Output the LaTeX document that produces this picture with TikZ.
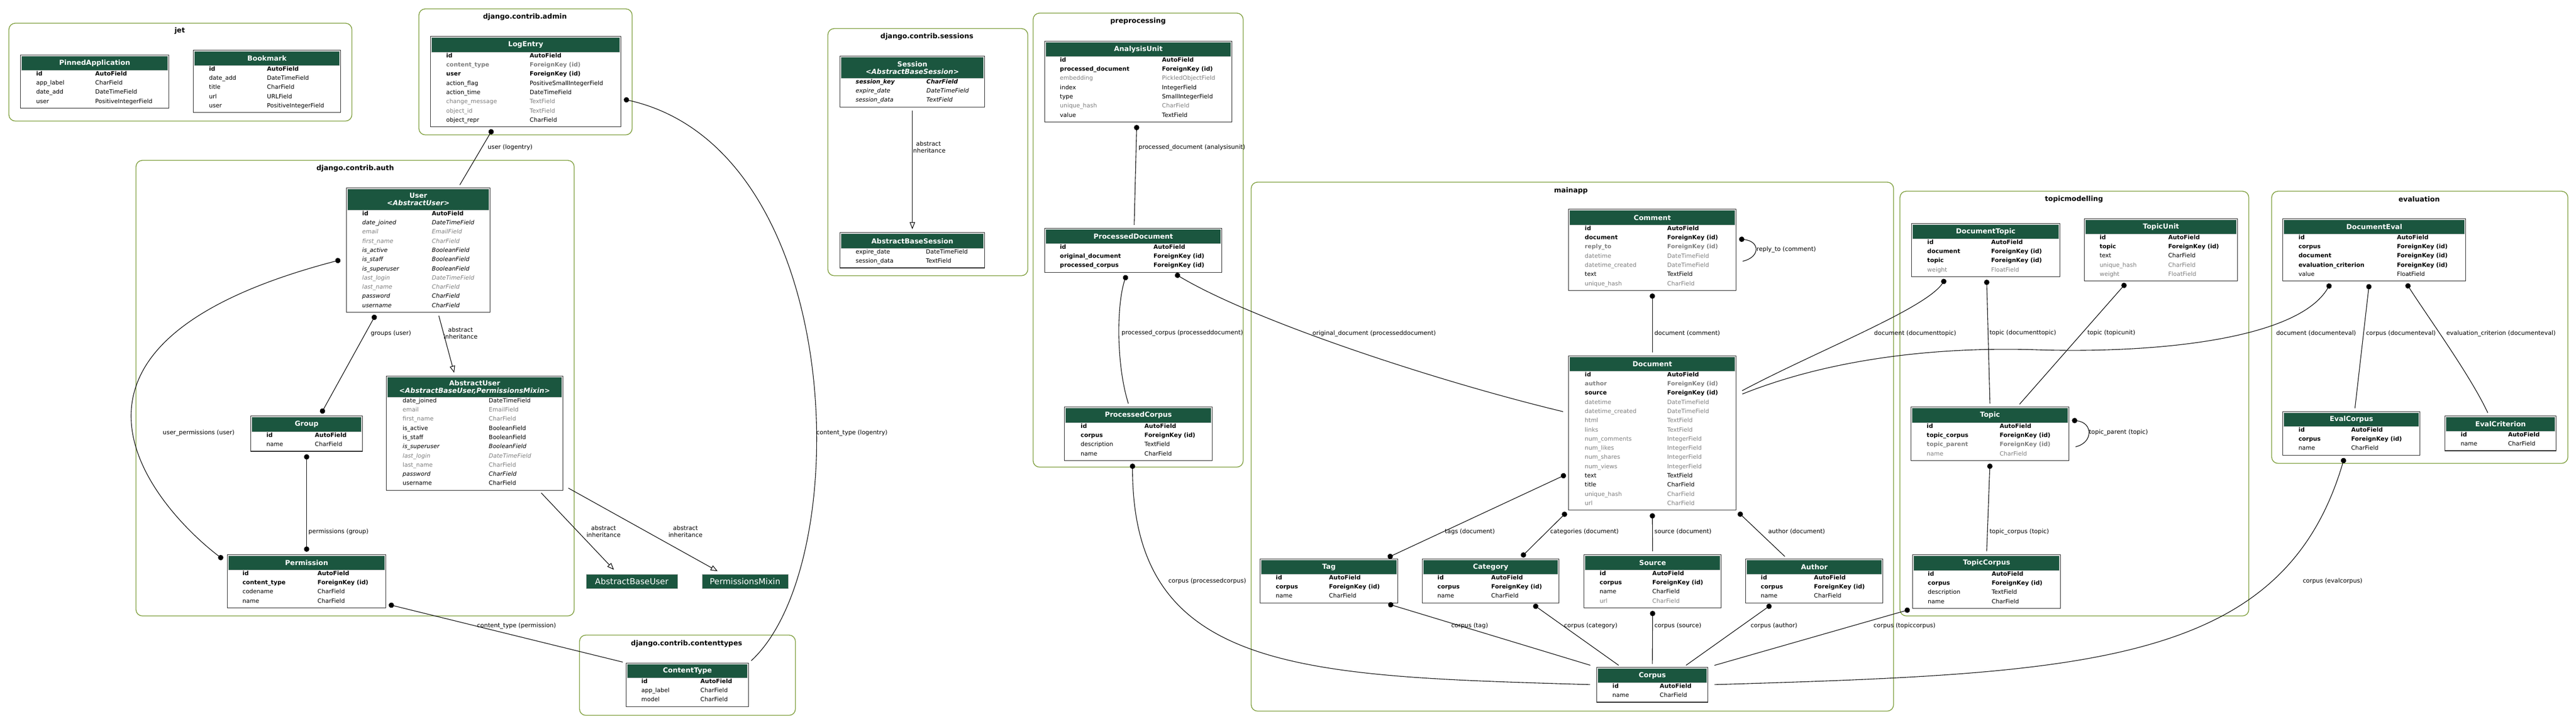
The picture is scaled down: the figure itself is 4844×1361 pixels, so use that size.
\documentclass[tikz,border=0pt]{standalone}
\usepackage{fontspec}
\setmainfont{DejaVu Sans}[BoldFont={DejaVu Sans Bold}, ItalicFont={DejaVu Sans Oblique}, BoldItalicFont={DejaVu Sans Bold Oblique}]
\usetikzlibrary{arrows.meta}

\definecolor{modelgreen}{HTML}{1B563F}
\definecolor{fieldgray}{RGB}{128,128,128}
\definecolor{clusterolive}{HTML}{7E9E3C}

% model table: name, left x, top y, width, header height, rows, title
\newcommand\model[7]{%
    \node[tbl, minimum width=#4, minimum height=#5+17.3*#6+1.7] (#1) at (#2,-#3) {};
    \node[thead, minimum width=#4-4, minimum height=#5-2] (#1-h) at ([yshift=-2]#1.north) {#7};
}
% field rows: table, name x, type x, first row y, list name/type/style
\newcommand\fields[5]{%
    \foreach \f/\t/\s [count=\i from 0] in {#5} {
        \node[\s] (#1-n\i) at (#2,-#4-17.3*\i) {\f};
        \node[\s] (#1-t\i) at (#3,-#4-17.3*\i) {\t};
    }
}

\begin{document}
\begin{tikzpicture}[
            x = 1pt, y = 1pt, % one unit per pixel
            fk/.style = {{Circle[length=10pt]}-, shorten <=5pt, shorten >=6pt, line width=1.1pt}, % foreign key
            mtm/.style = {{Circle[length=10pt]}-{Circle[length=10pt]}, shorten <=5pt, shorten >=5pt, line width=1.1pt}, % many to many
            inh/.style = {-{Triangle[open, length=13pt, width=10pt]}, shorten <=6pt, shorten >=6pt, line width=1.1pt},
            lbl/.style = {anchor=west, inner sep=0pt, text height=7.5pt, text depth=0pt, font=\fontsize{11.3}{12.5}\selectfont},
            fieldtxt/.style = {anchor=west, inner sep=0pt, text height=7.5pt, text depth=0pt, font=\fontsize{11}{13}\selectfont},
            rkey/.style = {fieldtxt, font=\fontsize{11}{13}\selectfont\bfseries},
            rkeyg/.style = {rkey, text=fieldgray},
            rpl/.style = {fieldtxt},
            rgr/.style = {fieldtxt, text=fieldgray},
            rit/.style = {fieldtxt, font=\fontsize{11}{13}\selectfont\itshape},
            ritg/.style = {rit, text=fieldgray},
            rbit/.style = {fieldtxt, font=\fontsize{11}{13}\selectfont\bfseries\itshape}
        ]

        \tikzstyle{tbl}=[
            draw = black!85,
            line width = 1.2pt,
            fill = white,
            anchor = north west,
            inner sep = 0pt
        ]
        \tikzstyle{thead}=[
            fill = modelgreen,
            draw = black!20,
            line width = 0.6pt,
            text = white,
            anchor = north,
            inner sep = 0pt,
            align = center,
            font = \fontsize{13}{14}\selectfont\bfseries
        ]
        \tikzstyle{cluster}=[draw = clusterolive, line width = 1.4pt, rounded corners = 12pt, anchor = north west, inner sep = 0pt]
        \tikzstyle{ctitle}=[inner sep = 0pt, font = \fontsize{13}{15}\selectfont\bfseries]
        \tikzstyle{mixin}=[fill = modelgreen, draw = black!25, text = white, minimum height = 27pt, inner sep = 0pt, font = \fontsize{15.5}{17}\selectfont]

        \useasboundingbox (0,0) rectangle (4844,-1361);

        % clusters
        \node[cluster, minimum width=645, minimum height=184] (c-jet) at (16,-43) {};
        \node[ctitle] (c-jet-t) at (338,-58) {jet};
        \node[cluster, minimum width=401, minimum height=237] (c-admin) at (787,-16) {};
        \node[ctitle] (c-admin-t) at (987,-32) {django.contrib.admin};
        \node[cluster, minimum width=376, minimum height=465] (c-sessions) at (1556,-53) {};
        \node[ctitle] (c-sessions-t) at (1743,-69) {django.contrib.sessions};
        \node[cluster, minimum width=395, minimum height=854] (c-preprocessing) at (1942,-24) {};
        \node[ctitle] (c-preprocessing-t) at (2140,-40) {preprocessing};
        \node[cluster, minimum width=824, minimum height=857] (c-auth) at (255,-301) {};
        \node[ctitle] (c-auth-t) at (668,-317) {django.contrib.auth};
        \node[cluster, minimum width=406, minimum height=151] (c-contenttypes) at (1089,-1194) {};
        \node[ctitle] (c-contenttypes-t) at (1291,-1211) {django.contrib.contenttypes};
        \node[cluster, minimum width=1208, minimum height=995] (c-mainapp) at (2352,-342) {};
        \node[ctitle] (c-mainapp-t) at (2954,-359) {mainapp};
        \node[cluster, minimum width=656, minimum height=799] (c-topicmodelling) at (3572,-359) {};
        \node[ctitle] (c-topicmodelling-t) at (3900,-375) {topicmodelling};
        \node[cluster, minimum width=557, minimum height=512] (c-evaluation) at (4271,-359) {};
        \node[ctitle] (c-evaluation-t) at (4549,-375) {evaluation};

        % jet
        \model{pinnedapp}{38}{103}{279}{29}{4}{PinnedApplication}
        \fields{pinnedapp}{68}{179}{138.5}{
            id/AutoField/rkey,
            app\_label/CharField/rpl,
            date\_add/DateTimeField/rpl,
            user/PositiveIntegerField/rpl}
        \model{bookmark}{363}{94}{277}{29}{5}{Bookmark}
        \fields{bookmark}{393}{502}{129.5}{
            id/AutoField/rkey,
            date\_add/DateTimeField/rpl,
            title/CharField/rpl,
            url/URLField/rpl,
            user/PositiveIntegerField/rpl}

        % django.contrib.admin
        \model{logentry}{809}{68}{358}{30}{8}{LogEntry}
        \fields{logentry}{839}{996}{104.5}{
            id/AutoField/rkey,
            content\_type/ForeignKey (id)/rkeyg,
            user/ForeignKey (id)/rkey,
            action\_flag/PositiveSmallIntegerField/rpl,
            action\_time/DateTimeField/rpl,
            change\_message/TextField/rgr,
            object\_id/TextField/rgr,
            object\_repr/CharField/rpl}

        % django.contrib.sessions
        \model{session}{1579}{105}{272}{42}{3}{Session\\\textit{<AbstractBaseSession>}}
        \fields{session}{1609}{1742}{153.5}{
            session\_key/CharField/rbit,
            expire\_date/DateTimeField/rit,
            session\_data/TextField/rit}
        \model{absbasesession}{1579}{437}{272}{30}{2}{AbstractBaseSession}
        \fields{absbasesession}{1609}{1741}{473.5}{
            expire\_date/DateTimeField/rpl,
            session\_data/TextField/rpl}

        % preprocessing
        \model{analysisunit}{1964}{76.5}{352}{29.5}{7}{AnalysisUnit}
        \fields{analysisunit}{1993}{2185}{112.5}{
            id/AutoField/rkey,
            processed\_document/ForeignKey (id)/rkey,
            embedding/PickledObjectField/rgr,
            index/IntegerField/rpl,
            type/SmallIntegerField/rpl,
            unique\_hash/CharField/rgr,
            value/TextField/rpl}
        \model{procdoc}{1964}{429}{333}{29}{3}{ProcessedDocument}
        \fields{procdoc}{1993}{2169}{464.5}{
            id/AutoField/rkey,
            original\_document/ForeignKey (id)/rkey,
            processed\_corpus/ForeignKey (id)/rkey}
        \model{proccorpus}{2001}{765}{278}{30}{4}{ProcessedCorpus}
        \fields{proccorpus}{2032}{2152}{801.5}{
            id/AutoField/rkey,
            corpus/ForeignKey (id)/rkey,
            description/TextField/rpl,
            name/CharField/rpl}

        % django.contrib.auth
        \model{user}{651}{353}{270}{42}{11}{User\\\textit{<AbstractUser>}}
        \fields{user}{681}{812}{401.5}{
            id/AutoField/rkey,
            date\_joined/DateTimeField/rit,
            email/EmailField/ritg,
            first\_name/CharField/ritg,
            is\_active/BooleanField/rit,
            is\_staff/BooleanField/rit,
            is\_superuser/BooleanField/rit,
            last\_login/DateTimeField/ritg,
            last\_name/CharField/ritg,
            password/CharField/rit,
            username/CharField/rit}
        \model{absuser}{726}{707}{332}{40}{10}{AbstractUser\\\textit{<AbstractBaseUser,PermissionsMixin>}}
        \fields{absuser}{757}{919}{753.5}{
            date\_joined/DateTimeField/rpl,
            email/EmailField/rgr,
            first\_name/CharField/rgr,
            is\_active/BooleanField/rpl,
            is\_staff/BooleanField/rpl,
            is\_superuser/BooleanField/rit,
            last\_login/DateTimeField/ritg,
            last\_name/CharField/rgr,
            password/CharField/rit,
            username/CharField/rpl}
        \model{group}{471}{782}{210}{30}{2}{Group}
        \fields{group}{501}{592}{818.5}{
            id/AutoField/rkey,
            name/CharField/rpl}
        \model{permission}{427}{1043}{298}{29}{4}{Permission}
        \fields{permission}{456}{597}{1078.5}{
            id/AutoField/rkey,
            content\_type/ForeignKey (id)/rkey,
            codename/CharField/rpl,
            name/CharField/rpl}
        \node[mixin, minimum width=172] (abstractbaseuser) at (1188,-1093.5) {AbstractBaseUser};
        \node[mixin, minimum width=162] (permissionsmixin) at (1401,-1093.5) {PermissionsMixin};

        % django.contrib.contenttypes
        \model{contenttype}{1177}{1247}{230}{28}{3}{ContentType}
        \fields{contenttype}{1206}{1317}{1281.5}{
            id/AutoField/rkey,
            app\_label/CharField/rpl,
            model/CharField/rpl}

        % mainapp
        \model{comment}{2949}{393}{315}{30}{7}{Comment}
        \fields{comment}{2980}{3135}{429.5}{
            id/AutoField/rkey,
            document/ForeignKey (id)/rkey,
            reply\_to/ForeignKey (id)/rkeyg,
            datetime/DateTimeField/rgr,
            datetime\_created/DateTimeField/rgr,
            text/TextField/rpl,
            unique\_hash/CharField/rgr}
        \model{document}{2949}{669}{315}{29}{15}{Document}
        \fields{document}{2980}{3135}{704.5}{
            id/AutoField/rkey,
            author/ForeignKey (id)/rkeyg,
            source/ForeignKey (id)/rkey,
            datetime/DateTimeField/rgr,
            datetime\_created/DateTimeField/rgr,
            html/TextField/rgr,
            links/TextField/rgr,
            num\_comments/IntegerField/rgr,
            num\_likes/IntegerField/rgr,
            num\_shares/IntegerField/rgr,
            num\_views/IntegerField/rgr,
            text/TextField/rpl,
            title/CharField/rpl,
            unique\_hash/CharField/rgr,
            url/CharField/rgr}
        \model{tag}{2369}{1051}{259}{29}{3}{Tag}
        \fields{tag}{2399}{2499}{1086.5}{
            id/AutoField/rkey,
            corpus/ForeignKey (id)/rkey,
            name/CharField/rpl}
        \model{category}{2674}{1051}{257}{29}{3}{Category}
        \fields{category}{2703}{2804}{1086.5}{
            id/AutoField/rkey,
            corpus/ForeignKey (id)/rkey,
            name/CharField/rpl}
        \model{source}{2978}{1043}{258}{29}{4}{Source}
        \fields{source}{3008}{3107}{1078.5}{
            id/AutoField/rkey,
            corpus/ForeignKey (id)/rkey,
            name/CharField/rpl,
            url/CharField/rgr}
        \model{author}{3282}{1051}{258}{29}{3}{Author}
        \fields{author}{3311}{3411}{1086.5}{
            id/AutoField/rkey,
            corpus/ForeignKey (id)/rkey,
            name/CharField/rpl}
        \model{corpus}{3002}{1255}{209}{29}{2}{Corpus}
        \fields{corpus}{3032}{3121}{1290.5}{
            id/AutoField/rkey,
            name/CharField/rpl}

        % topicmodelling
        \model{doctopic}{3594}{420}{279}{29}{4}{DocumentTopic}
        \fields{doctopic}{3624}{3744}{455.5}{
            id/AutoField/rkey,
            document/ForeignKey (id)/rkey,
            topic/ForeignKey (id)/rkey,
            weight/FloatField/rgr}
        \model{topicunit}{3919}{411}{288}{29}{5}{TopicUnit}
        \fields{topicunit}{3948}{4077}{446.5}{
            id/AutoField/rkey,
            topic/ForeignKey (id)/rkey,
            text/CharField/rpl,
            unique\_hash/CharField/rgr,
            weight/FloatField/rgr}
        \model{topic}{3593}{765}{297}{30}{4}{Topic}
        \fields{topic}{3623}{3760}{801.5}{
            id/AutoField/rkey,
            topic\_corpus/ForeignKey (id)/rkey,
            topic\_parent/ForeignKey (id)/rkeyg,
            name/CharField/rgr}
        \model{topiccorpus}{3596}{1043}{278}{30}{4}{TopicCorpus}
        \fields{topiccorpus}{3625}{3745}{1079.5}{
            id/AutoField/rkey,
            corpus/ForeignKey (id)/rkey,
            description/TextField/rpl,
            name/CharField/rpl}

        % evaluation
        \model{doceval}{4292}{411}{344}{29}{5}{DocumentEval}
        \fields{doceval}{4322}{4507}{446.5}{
            id/AutoField/rkey,
            corpus/ForeignKey (id)/rkey,
            document/ForeignKey (id)/rkey,
            evaluation\_criterion/ForeignKey (id)/rkey,
            value/FloatField/rpl}
        \model{evalcorpus}{4292}{774}{258}{28}{3}{EvalCorpus}
        \fields{evalcorpus}{4322}{4421}{808.5}{
            id/AutoField/rkey,
            corpus/ForeignKey (id)/rkey,
            name/CharField/rpl}
        \model{evalcriterion}{4597}{782}{209}{29}{2}{EvalCriterion}
        \fields{evalcriterion}{4627}{4716}{817.5}{
            id/AutoField/rkey,
            name/CharField/rpl}

        % relations
        \draw[fk] ([xshift=-60]logentry.south) -- ([xshift=75]user.north);
        \draw[fk] ([yshift=-32]logentry.east) .. controls +(425,-95) and +(203,187) .. (contenttype.north east);
        \draw[mtm] ([xshift=-6,yshift=-17]user.west) .. controls +(-639,-167) and +(-117,89) .. ([xshift=-4,yshift=-12]permission.north west);
        \draw[mtm] ([xshift=-78]user.south) -- ([xshift=25]group.north);
        \draw[inh] ([xshift=37]user.south) -- ([xshift=-37]absuser.north);
        \draw[mtm] (group.south) -- (permission.north);
        \draw[fk] ([yshift=8]permission.south east) -- (contenttype.north west);
        \draw[inh, shorten >=11pt] ([xshift=121]absuser.south) -- ([xshift=-26]abstractbaseuser.north);
        \draw[inh, shorten <=11pt, shorten >=11pt] ([yshift=10]absuser.south east) -- ([xshift=-42]permissionsmixin.north);

        \draw[inh] (session.south) -- (absbasesession.north);

        \draw[fk] ([xshift=-3]analysisunit.south) -- ([xshift=1.5]procdoc.north);
        \draw[fk] ([xshift=-11.5]procdoc.south) .. controls +(-20,-60) and +(-25,80) .. ([xshift=-17]proccorpus.north);
        \draw[fk, shorten >=10pt] ([xshift=74.5]procdoc.south) .. controls +(150,-90) and +(-250,60) .. ([yshift=38]document.west);
        \draw[fk, shorten >=12pt] ([xshift=-11]proccorpus.south) .. controls +(0,-400) and +(-550,16.5) .. (corpus.west);

        \draw[fk, shorten >=12pt] ([yshift=21]comment.east) .. controls +(45,-5) and +(45,10) .. ([yshift=-24]comment.east);
        \draw[fk] (comment.south) -- (document.north);
        \draw[mtm] ([yshift=-76]document.west) -- ([xshift=106]tag.north);
        \draw[mtm] (document.south west) -- ([xshift=54.5]category.north);
        \draw[fk] (document.south) -- (source.north);
        \draw[fk] (document.south east) -- ([xshift=-51]author.north);
        \draw[fk, shorten >=12pt] ([xshift=106.5]tag.south) -- (corpus.north west);
        \draw[fk] ([xshift=76.5]category.south) -- ([xshift=-58.5]corpus.north);
        \draw[fk] (source.south) -- (corpus.north);
        \draw[fk] ([xshift=-77]author.south) -- ([xshift=58.5]corpus.north);

        \draw[fk, shorten >=12pt] ([xshift=-73.5]doctopic.south) .. controls +(-40,-60) and +(150,80) .. ([yshift=74]document.east);
        \draw[fk] ([xshift=1.5]doctopic.south) -- (topic.north);
        \draw[fk] ([xshift=-63]topicunit.south) -- ([xshift=51.5]topic.north);
        \draw[fk, shorten >=12pt] ([yshift=26]topic.east) .. controls +(45,-5) and +(45,10) .. ([yshift=-27]topic.east);
        \draw[fk] (topic.south) -- (topiccorpus.north);
        \draw[fk, shorten >=12pt] (topiccorpus.south west) -- (corpus.north east);

        \coordinate (doceval-bend) at (3830,-658);
        \draw[fk, shorten >=12pt] ([xshift=-80]doceval.south) .. controls +(-64,-110) and +(220,-7) .. (doceval-bend) .. controls +(-150,5) and +(200,80) .. ([yshift=69]document.east);
        \draw[fk] ([xshift=-9]doceval.south) -- ([xshift=6]evalcorpus.north);
        \draw[fk] ([xshift=58]doceval.south) .. controls +(45,-70) and +(-35,75) .. ([xshift=-21.5]evalcriterion.north);
        \draw[fk, shorten >=12pt] ([xshift=-12]evalcorpus.south) .. controls +(-116,-395) and +(712,21.5) .. (corpus.east);

        % relation labels
        \node[lbl] (l-user-logentry) at (917,-277) {user (logentry)};
        \node[lbl] (l-ct-logentry) at (1535,-814) {content\_type (logentry)};
        \node[lbl] (l-perm-user) at (306,-814) {user\_permissions (user)};
        \node[lbl] (l-groups-user) at (697,-627) {groups (user)};
        \node[lbl, anchor=center, align=center, text height=, text depth=] (l-inh-user) at (866,-627) {abstract\\inheritance};
        \node[lbl] (l-perm-group) at (580,-1000) {permissions (group)};
        \node[lbl] (l-ct-perm) at (897,-1177) {content\_type (permission)};
        \node[lbl, anchor=center, align=center, text height=, text depth=] (l-inh-base) at (1135,-1000) {abstract\\inheritance};
        \node[lbl, anchor=center, align=center, text height=, text depth=] (l-inh-mixin) at (1289,-1000) {abstract\\inheritance};
        \node[lbl, anchor=center, align=center, text height=, text depth=] (l-inh-session) at (1746,-277) {abstract\\inheritance};
        \node[lbl] (l-pd-au) at (2141,-277) {processed\_document (analysisunit)};
        \node[lbl] (l-pc-pd) at (2109,-626) {processed\_corpus (processeddocument)};
        \node[lbl] (l-od-pd) at (2468,-627) {original\_document (processeddocument)};
        \node[lbl] (l-corpus-pc) at (2197,-1093) {corpus (processedcorpus)};
        \node[lbl] (l-reply) at (3303,-469) {reply\_to (comment)};
        \node[lbl] (l-doc-comment) at (3111,-627) {document (comment)};
        \node[lbl] (l-tags) at (2717,-1000) {tags (document)};
        \node[lbl] (l-categories) at (2915,-1000) {categories (document)};
        \node[lbl] (l-source) at (3111,-1000) {source (document)};
        \node[lbl] (l-author) at (3325,-1000) {author (document)};
        \node[lbl] (l-corpus-tag) at (2729,-1177) {corpus (tag)};
        \node[lbl] (l-corpus-cat) at (2941,-1177) {corpus (category)};
        \node[lbl] (l-corpus-src) at (3111,-1177) {corpus (source)};
        \node[lbl] (l-corpus-auth) at (3292,-1177) {corpus (author)};
        \node[lbl] (l-corpus-tc) at (3523,-1177) {corpus (topiccorpus)};
        \node[lbl] (l-doc-dt) at (3524,-627) {document (documenttopic)};
        \node[lbl] (l-topic-dt) at (3741,-626) {topic (documenttopic)};
        \node[lbl] (l-topic-tu) at (3925,-626) {topic (topicunit)};
        \node[lbl] (l-parent) at (3928,-813) {topic\_parent (topic)};
        \node[lbl] (l-tc-topic) at (3741,-1000) {topic\_corpus (topic)};
        \node[lbl] (l-doc-de) at (4280,-627) {document (documenteval)};
        \node[lbl] (l-corpus-de) at (4449,-627) {corpus (documenteval)};
        \node[lbl] (l-crit-de) at (4600,-627) {evaluation\_criterion (documenteval)};
        \node[lbl] (l-corpus-ec) at (4330,-1093) {corpus (evalcorpus)};

    \end{tikzpicture}
\end{document}
